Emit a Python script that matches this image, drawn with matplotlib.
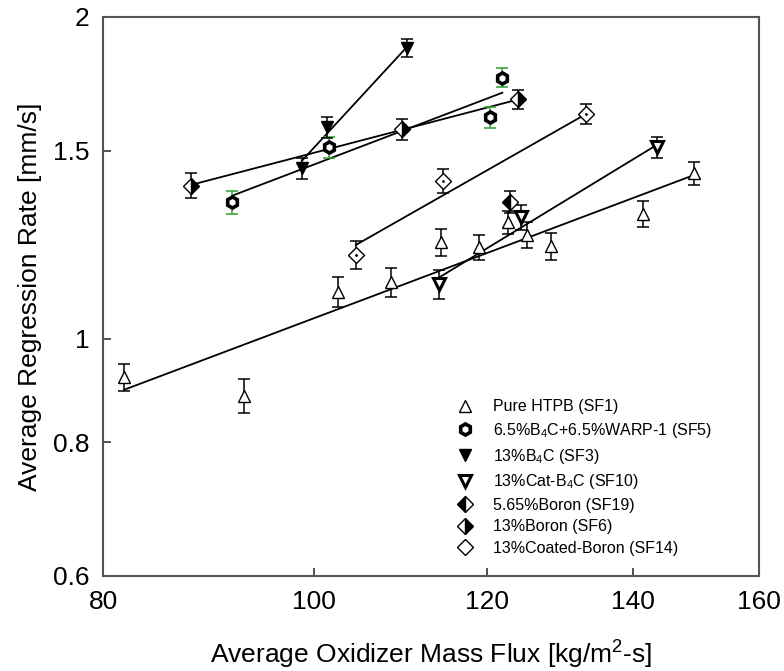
import matplotlib
matplotlib.use("Agg")
import matplotlib.pyplot as plt
from matplotlib.ticker import FixedLocator, FixedFormatter, NullLocator

plt.rcParams["font.family"] = ["Liberation Sans", "DejaVu Sans"]
plt.rcParams["mathtext.fontset"] = "custom"
plt.rcParams["mathtext.rm"] = "Liberation Sans"

# oxidizer mass flux [kg/m2-s], regression rate [mm/s], error [mm/s]
sf1_flux = [81.8, 92.9, 102.6, 108.5, 114.3, 119.0, 122.7, 125.2, 128.5, 141.5, 149.4]
sf1_rate = [0.921, 0.885, 1.107, 1.129, 1.231, 1.218, 1.286, 1.251, 1.221, 1.308, 1.428]
sf1_err = [0.027, 0.032, 0.035, 0.035, 0.035, 0.033, 0.032, 0.035, 0.035, 0.037, 0.036]
sf1_fit = [0.896, 1.423]

sf5_flux = [91.7, 101.6, 120.4, 122.0]
sf5_rate = [1.342, 1.511, 1.611, 1.755]
sf5_err = [0.034, 0.034, 0.036, 0.035]
sf5_fit = [1.361, 1.699]

sf3_flux = [98.7, 101.4, 110.3]
sf3_rate = [1.444, 1.577, 1.870]
sf3_err = [0.033, 0.036, 0.037]
sf3_fit = [1.467, 1.875]

sf10_flux = [114.1, 124.4, 143.6]
sf10_rate = [1.125, 1.299, 1.510]
sf10_err = [0.035, 0.034, 0.035]
sf10_fit = [1.141, 1.518]

sf19_flux = [123.0]
sf19_rate = [1.344]
sf19_err = [0.032]

sf6_flux = [87.8, 109.7, 124.0]
sf6_rate = [1.391, 1.570, 1.675]
sf6_err = [0.037, 0.035, 0.035]
sf6_fit = [1.393, 1.674]

sf14_flux = [104.5, 114.6, 133.3]
sf14_rate = [1.198, 1.406, 1.623]
sf14_err = [0.037, 0.037, 0.036]
sf14_fit = [1.224, 1.623]

x_ticks = [80, 100, 120, 140, 160]
y_ticks = [0.6, 0.8, 1, 1.5, 2]
y_tick_labels = ["0.6", "0.8", "1", "1.5", "2"]

fig = plt.figure(figsize=(7.84, 6.71), dpi=100)
ax = fig.add_axes([0.1314, 0.1416, 0.8366, 0.8331])
ax.set_xscale("log")
ax.set_yscale("log")

green = "#2f9e2f"

# fit lines
for flux, fit in [(sf1_flux, sf1_fit), (sf5_flux, sf5_fit), (sf3_flux, sf3_fit),
                  (sf10_flux, sf10_fit), (sf6_flux, sf6_fit), (sf14_flux, sf14_fit)]:
    ax.plot([min(flux), max(flux)], fit, color="black", lw=1.3, zorder=2)

# error bars
for flux, rate, err, col in [(sf1_flux, sf1_rate, sf1_err, "black"),
                             (sf5_flux, sf5_rate, sf5_err, green),
                             (sf3_flux, sf3_rate, sf3_err, "black"),
                             (sf10_flux, sf10_rate, sf10_err, "black"),
                             (sf19_flux, sf19_rate, sf19_err, "black"),
                             (sf6_flux, sf6_rate, sf6_err, "black"),
                             (sf14_flux, sf14_rate, sf14_err, "black")]:
    ax.errorbar(flux, rate, yerr=err, fmt="none", ecolor=col, elinewidth=1.1,
                capsize=4, capthick=1.1, zorder=3)

ms = dict(linestyle="none", zorder=4)
ax.plot(sf1_flux, sf1_rate, marker="^", ms=8, mfc="white", mec="black", mew=1.0,
        label="Pure HTPB (SF1)", **ms)
ax.plot(sf5_flux, sf5_rate, marker="h", ms=8, mfc="white", mec="black", mew=2.6,
        label="6.5%B$_{\\mathregular{4}}$C+6.5%WARP-1 (SF5)", **ms)
ax.plot(sf3_flux, sf3_rate, marker="v", ms=9, mfc="black", mec="black", mew=1.0,
        label="13%B$_{\\mathregular{4}}$C (SF3)", **ms)
ax.plot(sf10_flux, sf10_rate, marker="v", ms=8, mfc="white", mec="black", mew=2.2,
        label="13%Cat-B$_{\\mathregular{4}}$C (SF10)", **ms)
ax.plot(sf19_flux, sf19_rate, marker="D", ms=8, mfc="black", mfcalt="white",
        fillstyle="left", mec="black", mew=1.0, label="5.65%Boron (SF19)", **ms)
ax.plot(sf6_flux, sf6_rate, marker="D", ms=8, mfc="black", mfcalt="white",
        fillstyle="right", mec="black", mew=1.0, label="13%Boron (SF6)", **ms)
ax.plot(sf14_flux, sf14_rate, marker="D", ms=8, mfc="white", mec="black", mew=1.0,
        label="13%Coated-Boron (SF14)", **ms)
ax.plot(sf14_flux, sf14_rate, marker=".", ms=2, color="black", linestyle="none", zorder=5)

ax.set_xlim(80, 160)
ax.set_ylim(0.6, 2)
ax.xaxis.set_major_locator(FixedLocator(x_ticks))
ax.xaxis.set_major_formatter(FixedFormatter([str(t) for t in x_ticks]))
ax.xaxis.set_minor_locator(NullLocator())
ax.yaxis.set_major_locator(FixedLocator(y_ticks))
ax.yaxis.set_major_formatter(FixedFormatter(y_tick_labels))
ax.yaxis.set_minor_locator(NullLocator())
ax.tick_params(direction="in", length=6, width=1.2, labelsize=19, pad=10, colors="#333333",
               labelcolor="black")

for s in ax.spines.values():
    s.set_linewidth(1.5)
    s.set_color("#555555")

ax.set_xlabel("Average Oxidizer Mass Flux [kg/m$^{\\mathregular{2}}$-s]", fontsize=19, labelpad=17)
ax.set_ylabel("Average Regression Rate [mm/s]", fontsize=19, labelpad=8)

ax.legend(loc="upper left", bbox_to_anchor=(0.528, 0.33), bbox_transform=ax.transAxes,
          frameon=False, fontsize=11.5, numpoints=1, handlelength=1.0, handletextpad=1.25,
          borderpad=0, labelspacing=0.41)

fig.savefig("out.png", dpi=100)
